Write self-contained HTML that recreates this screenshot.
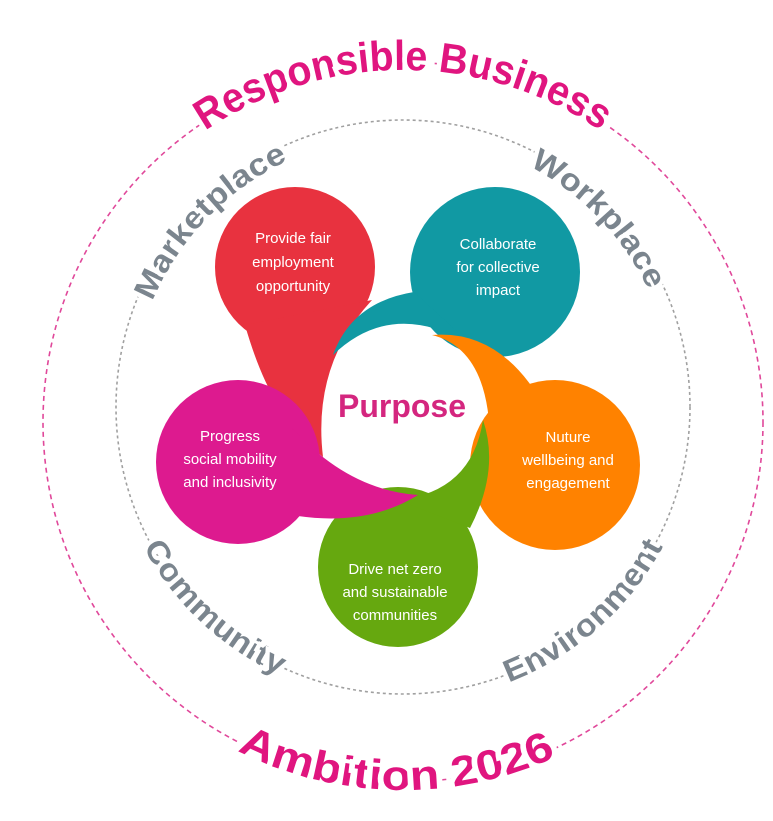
<!DOCTYPE html>
<html><head><meta charset="utf-8"><style>
html,body{margin:0;padding:0;background:#fff;}
svg{display:block;}
</style></head><body>
<svg width="773" height="821" viewBox="0 0 773 821" xmlns="http://www.w3.org/2000/svg" font-family="Liberation Sans, sans-serif">
<defs>
<path id="outTop" d="M 755 422 A 352 352 0 1 1 51 422 A 352 352 0 1 1 755 422"/>
<path id="outBot" d="M 35 422 A 368 368 0 0 0 771 422"/>
<path id="inTop" d="M 675 407 A 272 272 0 1 1 131 407 A 272 272 0 1 1 675 407"/>
<path id="inBot" d="M 108 407 A 295 295 0 0 0 698 407"/>
</defs>
<circle cx="403" cy="422" r="360" fill="none" stroke="#e0489a" stroke-width="1.6" stroke-dasharray="5 4"/>
<circle cx="403" cy="407" r="287" fill="none" stroke="#a0a0a0" stroke-width="1.6" stroke-dasharray="3 3"/>

<g font-weight="bold" fill="#e0157f" font-size="42" stroke="#fff" stroke-width="10" paint-order="stroke">
<text><textPath href="#outTop" startOffset="75%" text-anchor="middle" textLength="420" lengthAdjust="spacingAndGlyphs">Responsible Business</textPath></text>
<text><textPath href="#outBot" startOffset="49.4%" text-anchor="middle" textLength="330" lengthAdjust="spacingAndGlyphs">Ambition 2026</textPath></text>
</g>
<g font-weight="bold" fill="#7b858e" font-size="31" stroke="#fff" stroke-width="8" paint-order="stroke">
<text><textPath href="#inTop" startOffset="62.2%" text-anchor="middle" textLength="200" lengthAdjust="spacingAndGlyphs">Marketplace</textPath></text>
<text><textPath href="#inTop" startOffset="87.8%" text-anchor="middle" textLength="175" lengthAdjust="spacingAndGlyphs">Workplace</textPath></text>
<text><textPath href="#inBot" startOffset="26%" text-anchor="middle" textLength="190" lengthAdjust="spacingAndGlyphs">Community</textPath></text>
<text><textPath href="#inBot" startOffset="73%" text-anchor="middle" textLength="210" lengthAdjust="spacingAndGlyphs">Environment</textPath></text>
</g>

<!-- bubbles -->
<g fill="#e8323f">
<circle cx="295" cy="267" r="80"/>
<path d="M 245 325 Q 272 420 323 457 Q 312 365 372 300 Z"/>
</g>
<g fill="#1199a3">
<circle cx="495" cy="272" r="85"/>
<path d="M 414 292 Q 352 302 333 355 Q 392 298 472 345 Z"/>
</g>
<g fill="#ff8200">
<circle cx="555" cy="465" r="85"/>
<path d="M 530 384 Q 490 330 432 335 Q 492 350 490 452 Z"/>
</g>
<g fill="#66a80f">
<circle cx="398" cy="567" r="80"/>
<path d="M 470 528 Q 500 470 483 420 Q 472 492 398 500 Z"/>
</g>
<g fill="#dd1a8f">
<circle cx="238" cy="462" r="82"/>
<path d="M 298 516 Q 368 526 418 495 Q 348 490 292 428 Z"/>
</g>

<text x="402" y="417" text-anchor="middle" font-size="32" font-weight="bold" fill="#d4267f">Purpose</text>

<g fill="#fff" font-size="15" text-anchor="middle">
<text x="293" y="243">Provide fair</text><text x="293" y="267">employment</text><text x="293" y="291">opportunity</text>
<text x="498" y="249">Collaborate</text><text x="498" y="272">for collective</text><text x="498" y="295">impact</text>
<text x="568" y="442">Nuture</text><text x="568" y="465">wellbeing and</text><text x="568" y="488">engagement</text>
<text x="395" y="574">Drive net zero</text><text x="395" y="597">and sustainable</text><text x="395" y="620">communities</text>
<text x="230" y="441">Progress</text><text x="230" y="464">social mobility</text><text x="230" y="487">and inclusivity</text>
</g>
</svg>
</body></html>
